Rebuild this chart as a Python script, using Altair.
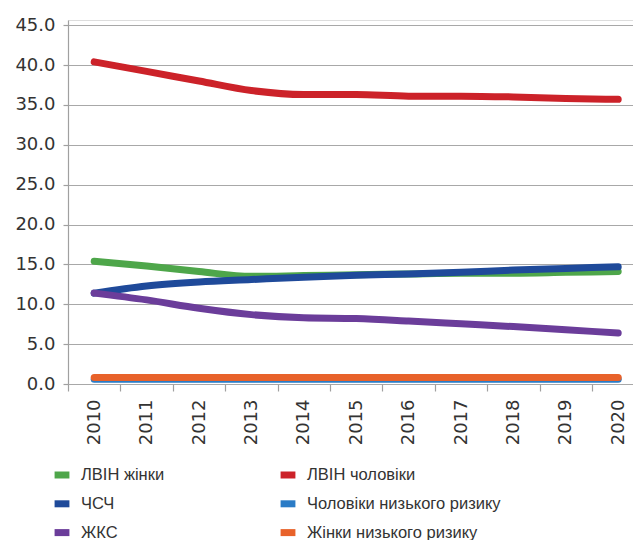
import altair as alt
import pandas as pd

years = list(range(2010, 2021))

# legend order is column-major (2 columns x 3 rows)
series_names = [
    "ЛВІН жінки",
    "ЧСЧ",
    "ЖКС",
    "ЛВІН чоловіки",
    "Чоловіки низького ризику",
    "Жінки низького ризику",
]
series_colors = ["#4ea64a", "#1f4a9a", "#6b3d9a", "#cc2229", "#2a7bc6", "#e8622a"]

lvin_women = [15.4, 14.8, 14.1, 13.5, 13.6, 13.7, 13.8, 13.9, 13.9, 14.0, 14.1]
lvin_men = [40.4, 39.2, 38.0, 36.8, 36.3, 36.3, 36.1, 36.1, 36.0, 35.8, 35.7]
msm = [11.4, 12.3, 12.8, 13.1, 13.4, 13.65, 13.8, 14.0, 14.3, 14.5, 14.7]
men_low = [0.6, 0.6, 0.6, 0.6, 0.6, 0.6, 0.6, 0.6, 0.6, 0.6, 0.6]
fsw = [11.4, 10.55, 9.5, 8.7, 8.3, 8.2, 7.9, 7.55, 7.2, 6.8, 6.4]
women_low = [0.8, 0.8, 0.8, 0.8, 0.8, 0.8, 0.8, 0.8, 0.8, 0.8, 0.8]

values_by_series = {
    "ЛВІН жінки": lvin_women,
    "ЛВІН чоловіки": lvin_men,
    "ЧСЧ": msm,
    "Чоловіки низького ризику": men_low,
    "ЖКС": fsw,
    "Жінки низького ризику": women_low,
}

draw_order = [
    "ЛВІН жінки",
    "ЛВІН чоловіки",
    "ЧСЧ",
    "ЖКС",
    "Чоловіки низького ризику",
    "Жінки низького ризику",
]

y_ticks = [0, 5, 10, 15, 20, 25, 30, 35, 40, 45]

rows = []
for name in series_names:
    for yr, v in zip(years, values_by_series[name]):
        rows.append({"year": yr, "value": v, "series": name})
df = pd.DataFrame(rows)

W = 565
H = 364
step = 52.4
x_max = 2009.5 + W / step

x_enc = alt.X(
    "year:Q",
    scale=alt.Scale(domain=[2009.5, x_max], nice=False, zero=False),
    axis=alt.Axis(
        values=years,
        format="d",
        tickOffset=-step / 2,
        labelOffset=step / 2,
        labelAngle=270,
        labelFont="DejaVu Sans",
        labelFontSize=18,
        labelColor="#333333",
        labelPadding=8,
        labelFlush=False,
        labelOverlap=False,
        labelBound=False,
        tickSize=7,
        tickColor="#a0a0a0",
        tickWidth=1.2,
        domain=False,
        grid=False,
        title=None,
    ),
)

y_enc = alt.Y(
    "value:Q",
    scale=alt.Scale(domain=[0, 45.65], nice=False),
    axis=alt.Axis(
        values=y_ticks,
        format=".1f",
        labelFont="DejaVu Sans",
        labelFontSize=18,
        labelColor="#333333",
        labelPadding=8,
        tickSize=5,
        tickColor="#a0a0a0",
        tickWidth=1.2,
        domainColor="#a0a0a0",
        domainWidth=1.2,
        gridColor="#a8a8a8",
        gridWidth=1.2,
        title=None,
    ),
)

color_enc = alt.Color(
    "series:N",
    scale=alt.Scale(domain=series_names, range=series_colors),
    legend=alt.Legend(
        title=None,
        orient="none",
        legendX=-17,
        legendY=444,
        columns=2,
        symbolType="stroke",
        symbolStrokeWidth=7,
        symbolSize=220,
        labelFont="Liberation Sans",
        labelFontSize=16.5,
        labelColor="#333333",
        labelLimit=400,
        labelOffset=8,
        columnPadding=101,
        rowPadding=0.8,
    ),
)

layers = []
for name in draw_order:
    layers.append(
        alt.Chart(df)
        .transform_filter(alt.datum.series == name)
        .mark_line(strokeWidth=7, strokeCap="round", interpolate="monotone")
        .encode(x=x_enc, y=y_enc, color=color_enc)
    )

chart = (
    alt.layer(*layers)
    .properties(
        width=W,
        height=H,
        autosize=alt.AutoSizeParams(type="none"),
        padding={"left": 68, "top": 20, "right": 0, "bottom": 156},
    )
    .configure_view(stroke=None)
    .configure(background="white")
)

chart.save("out.html", embed_options={"renderer": "svg", "actions": False})
